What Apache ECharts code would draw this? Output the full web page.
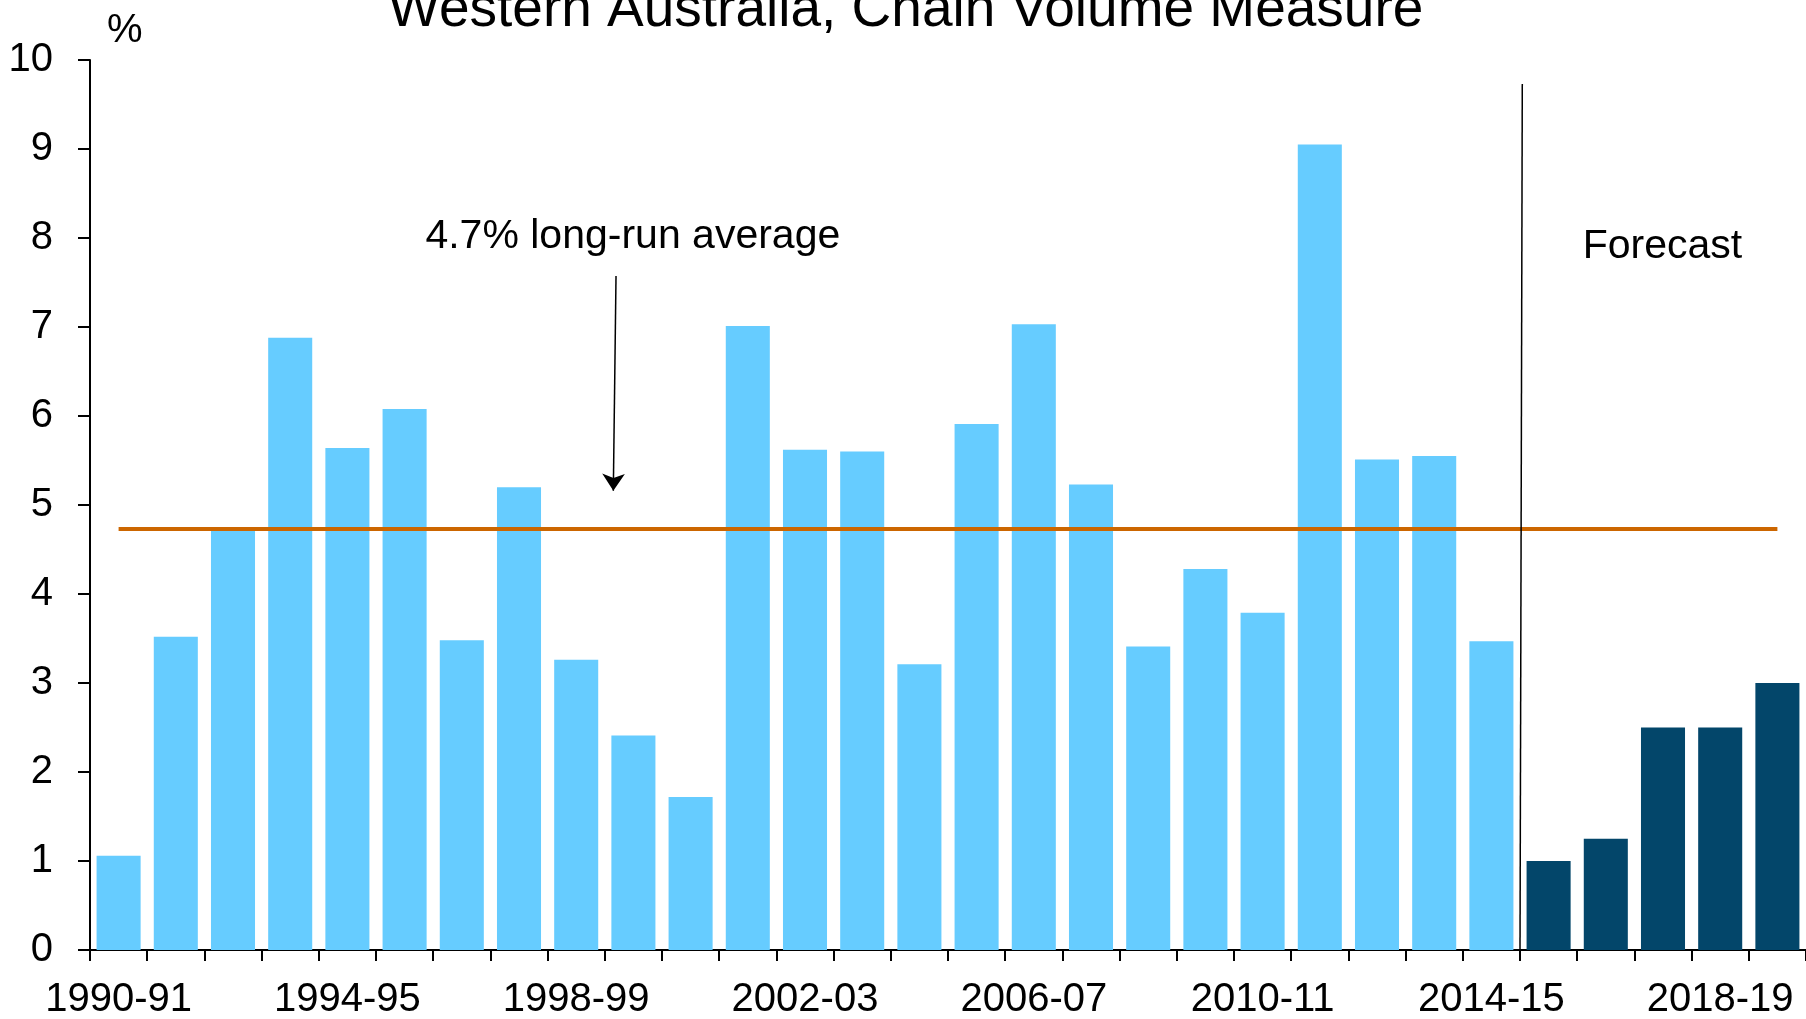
<!DOCTYPE html>
<html>
<head>
    <meta charset="utf-8">
    <title>Western Australia, Chain Volume Measure</title>
    <script src="https://cdn.jsdelivr.net/npm/echarts@6/dist/echarts.min.js"></script>
    <style>
        html, body { margin: 0; padding: 0; background: #fff; }
        #main { width: 1806px; height: 1019px; }
    </style>
</head>
<body>
<div id="main"></div>
<script type="text/javascript">
    // financial years on the x axis
    var years = ['1990-91', '1991-92', '1992-93', '1993-94', '1994-95', '1995-96', '1996-97', '1997-98',
        '1998-99', '1999-00', '2000-01', '2001-02', '2002-03', '2003-04', '2004-05', '2005-06', '2006-07',
        '2007-08', '2008-09', '2009-10', '2010-11', '2011-12', '2012-13', '2013-14', '2014-15', '2015-16',
        '2016-17', '2017-18', '2018-19', '2019-20'];
    // actual growth, 1990-91 to 2014-15 (%)
    var actual = [1.06, 3.52, 4.72, 6.88, 5.64, 6.08, 3.48, 5.2, 3.26, 2.41, 1.72, 7.01, 5.62, 5.6, 3.21,
        5.91, 7.03, 5.23, 3.41, 4.28, 3.79, 9.05, 5.51, 5.55, 3.47];
    // forecast growth, 2015-16 to 2019-20 (%)
    var forecast = [1.0, 1.25, 2.5, 2.5, 3.0];
    var longRunAvg = 4.73;

    var font = '"Liberation Sans", Arial, sans-serif';

    var actualData = years.map(function (y, i) {
        return i < actual.length ? actual[i] : '-';
    });
    var forecastData = years.map(function (y, i) {
        var j = i - actual.length;
        return j >= 0 ? forecast[j] : '-';
    });

    var chart = echarts.init(document.getElementById('main'));
    var option = {
        animation: false,
        backgroundColor: '#fff',
        title: {
            text: 'Western Australia, Chain Volume Measure',
            left: 388,
            top: -17,
            padding: 0,
            textStyle: {
                fontFamily: font,
                fontWeight: 'normal',
                fontSize: 55,
                lineHeight: 55,
                color: '#000'
            }
        },
        grid: {
            left: 90,
            right: 0,
            top: 60,
            bottom: 69,
            outerBoundsMode: 'none'
        },
        xAxis: [{
            type: 'category',
            data: years,
            axisLine: {lineStyle: {color: '#000', width: 2}},
            axisTick: {show: true, interval: 0, length: 11, lineStyle: {color: '#000', width: 2}},
            axisLabel: {
                interval: 3,
                margin: 30,
                color: '#000',
                fontFamily: font,
                fontSize: 40,
                lineHeight: 40
            },
            splitLine: {show: false}
        }, {
            // hidden linear axis used to place the annotations
            type: 'value',
            min: 0,
            max: 30,
            show: false
        }],
        yAxis: {
            type: 'value',
            min: 0,
            max: 10,
            interval: 1,
            name: '%',
            nameLocation: 'end',
            nameGap: 9,
            nameTextStyle: {
                fontFamily: font,
                fontSize: 40,
                color: '#000',
                align: 'left',
                padding: [0, 0, 0, 17]
            },
            axisLine: {show: true, lineStyle: {color: '#000', width: 2}},
            axisTick: {show: true, length: 12, lineStyle: {color: '#000', width: 2}},
            axisLabel: {
                margin: 37,
                color: '#000',
                fontFamily: font,
                fontSize: 40
            },
            splitLine: {show: false}
        },
        series: [{
            name: 'Actual',
            type: 'bar',
            data: actualData,
            barCategoryGap: '23%',
            barGap: '-100%',
            itemStyle: {color: '#66CCFF'},
            markLine: {
                silent: true,
                symbol: 'none',
                label: {show: false},
                lineStyle: {color: '#CC6600', width: 4, type: 'solid', opacity: 1},
                data: [[{coord: [years[0], longRunAvg]}, {coord: [years[years.length - 1], longRunAvg]}]]
            },
            z: 2
        }, {
            name: 'Forecast',
            type: 'bar',
            data: forecastData,
            barCategoryGap: '23%',
            barGap: '-100%',
            itemStyle: {color: '#03466A'},
            z: 2
        }, {
            // annotations: labels, arrow, forecast divider
            type: 'scatter',
            xAxisIndex: 1,
            symbolSize: 0,
            silent: true,
            itemStyle: {opacity: 1},
            label: {
                show: true,
                position: 'inside',
                color: '#000',
                opacity: 1,
                fontFamily: font,
                fontSize: 41,
                formatter: function (p) {
                    return p.data[2];
                }
            },
            data: [
                [9.49, 8.017, '4.7% long-run average'],
                [27.49, 7.9, 'Forecast']
            ],
            markLine: {
                silent: true,
                label: {show: false},
                lineStyle: {color: '#000', width: 1.5, type: 'solid', opacity: 1},
                data: [
                    [{coord: [9.196, 7.573], symbol: 'none'},
                        {coord: [9.149, 5.16], symbol: 'arrow', symbolSize: 17}],
                    [{coord: [25.0, 0], symbol: 'none'}, {coord: [25.04, 9.73], symbol: 'none'}]
                ]
            },
            z: 5
        }]
    };
    chart.setOption(option);
</script>
</body>
</html>
